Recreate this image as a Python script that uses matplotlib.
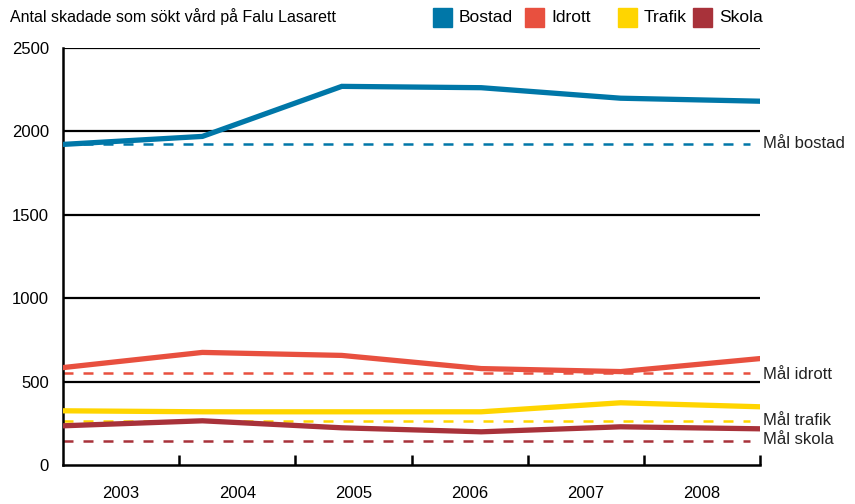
import matplotlib
matplotlib.use("Agg")
import matplotlib.pyplot as plt
import matplotlib.patches as mpatches
import matplotlib.transforms as mtransforms

plt.rcParams["font.family"] = ["Liberation Sans", "DejaVu Sans"]

years = ["2003", "2004", "2005", "2006", "2007", "2008"]
series = ["Bostad", "Idrott", "Trafik", "Skola"]
colors = ["#0077a8", "#e8503f", "#ffd500", "#a8323a"]
bostad = [1922, 1970, 2270, 2262, 2199, 2181]
idrott = [584, 675, 657, 578, 560, 638]
trafik = [325, 319, 319, 319, 373, 349]
skola = [235, 265, 223, 199, 229, 217]
targets = [1925, 554, 265, 145]
target_labels = ["Mål bostad", "Mål idrott", "Mål trafik", "Mål skola"]
yticks = [0, 500, 1000, 1500, 2000, 2500]

fig = plt.figure(figsize=(8.55, 5.04), dpi=100)
ax = fig.add_axes([63 / 855, 39 / 504, 697 / 855, 417 / 504])

# horizontal grid
for v in yticks[1:]:
    ax.axhline(v, color="black", lw=1.6, zorder=1)

x = list(range(len(years)))
for vals, c in zip([bostad, idrott, trafik, skola], colors):
    ax.plot(x, vals, color=c, lw=3.8, solid_joinstyle="miter", zorder=3)

# target lines + labels
for t, c in zip(targets, colors):
    ax.plot([0, 4.93], [t, t], color=c, lw=1.8, ls=(0, (4, 4)), zorder=2)
lab_y = [1925, 545, 265, 150]
for ly, lab in zip(lab_y, target_labels):
    ax.annotate(lab, xy=(1, ly), xycoords=ax.get_yaxis_transform(),
                xytext=(2, 0), textcoords="offset points",
                va="center", ha="left", fontsize=12, color="#222222")

ax.set_xlim(0, 5)
ax.set_ylim(0, 2500)
for s in ["top", "right"]:
    ax.spines[s].set_visible(False)
ax.spines["left"].set_linewidth(1.8)
ax.spines["bottom"].set_linewidth(1.8)

ax.set_yticks(yticks)
ax.tick_params(axis="y", length=0, labelsize=12, pad=10)
nb = len(years)
ax.set_xticks([i * 5 / nb for i in range(1, nb + 1)])
ax.set_xticklabels([])
ax.tick_params(axis="x", direction="in", length=7, width=1.8)
blend = mtransforms.blended_transform_factory(ax.transData, ax.transAxes)
for i, yr in enumerate(years):
    ax.text((i + 0.5) * 5 / nb, -0.068, yr, transform=blend,
            ha="center", va="center", fontsize=12)

fig.text(10 / 855, 1 - 17 / 504, "Antal skadade som sökt vård på Falu Lasarett",
         ha="left", va="center", fontsize=11.5)

leg_x = [433, 525, 618, 693]
for lx, name, c in zip(leg_x, series, colors):
    fig.patches.append(mpatches.Rectangle((lx / 855, 1 - 27 / 504), 19 / 855, 19 / 504,
                                          transform=fig.transFigure, color=c))
    fig.text((lx + 26) / 855, 1 - 17 / 504, name, ha="left", va="center", fontsize=12.5)

fig.savefig("out.png", dpi=100)
